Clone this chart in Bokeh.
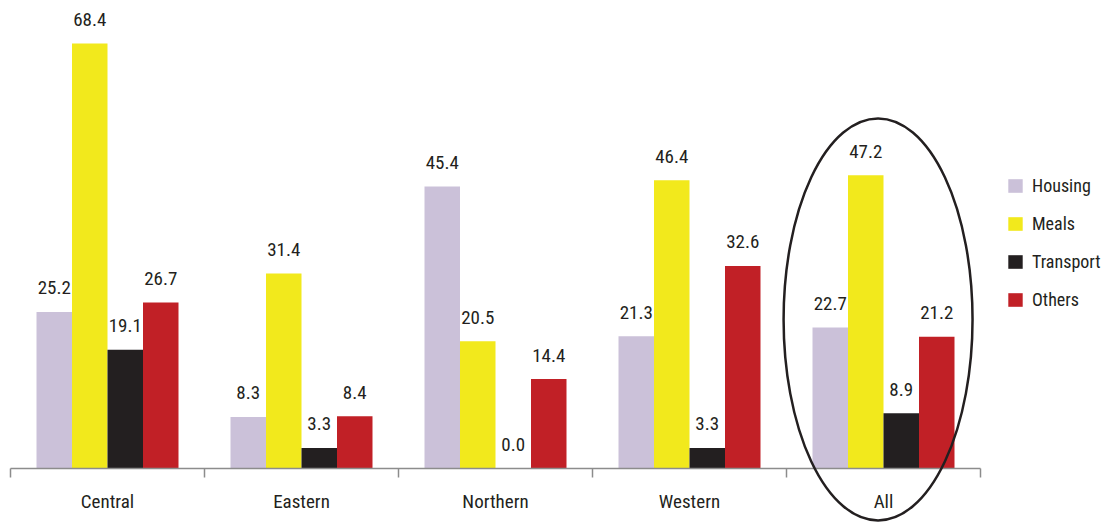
from bokeh.plotting import figure
from bokeh.models import Range1d, ColumnDataSource, Legend, LegendItem
from bokeh.core.properties import value
from bokeh.embed import file_html
from bokeh.resources import INLINE

regions = ["Central", "Eastern", "Northern", "Western", "All"]
series = ["Housing", "Meals", "Transport", "Others"]
housing = [25.2, 8.3, 45.4, 21.3, 22.7]
meals = [68.4, 31.4, 20.5, 46.4, 47.2]
transport = [19.1, 3.3, 0.0, 3.3, 8.9]
others = [26.7, 8.4, 14.4, 32.6, 21.2]
colors = ["#cbc1d9", "#f2e91c", "#231f20", "#c12026"]

FONT = "'Roboto Condensed', 'DejaVu Sans Condensed', 'Liberation Sans Narrow', 'Arial Narrow', sans-serif"
TXT = "#231f20"

PX_PER_UNIT_X = 194.0
PX_PER_UNIT_Y = 6.213
W, H = 1107, 522
X0, Y0 = 10, 468  # pixel position of data origin

p = figure(width=W, height=H, output_backend="svg", toolbar_location=None,
           x_range=Range1d(-X0 / PX_PER_UNIT_X, (W - X0) / PX_PER_UNIT_X),
           y_range=Range1d(-(H - Y0) / PX_PER_UNIT_Y, Y0 / PX_PER_UNIT_Y),
           min_border=0, min_border_left=0, min_border_right=0,
           min_border_top=0, min_border_bottom=0)
p.axis.visible = False
p.grid.visible = False
p.outline_line_color = None
p.background_fill_color = "white"

bw = 0.183
offsets = [-1.5 * bw, -0.5 * bw, 0.5 * bw, 1.5 * bw]
data = [housing, meals, transport, others]
renderers = []
for k, (name, vals) in enumerate(zip(series, data)):
    xs = [i + 0.5 + offsets[k] for i in range(len(regions))]
    src = ColumnDataSource(dict(x=xs, top=vals, lab=["%.1f" % v for v in vals]))
    r = p.vbar(x="x", top="top", bottom=0, width=bw, source=src,
               fill_color=colors[k], line_color=None)
    renderers.append(r)
    p.text(x="x", y="top", text="lab", source=src, text_align="center",
           text_baseline="middle", y_offset=-24,
           text_font=value(FONT), text_font_size="19px", text_color=TXT)

# axis line and boundary ticks
n = len(regions)
p.segment(x0=[0], y0=[0], x1=[n], y1=[0], line_color="#8c8c8c", line_width=1.5)
p.segment(x0=list(range(n + 1)), y0=[0] * (n + 1), x1=list(range(n + 1)),
          y1=[-9 / PX_PER_UNIT_Y] * (n + 1), line_color="#8c8c8c", line_width=1.5)
p.text(x=[i + 0.5 for i in range(n)], y=[0] * n, text=regions,
       text_align="center", text_baseline="middle", y_offset=33,
       text_font=value(FONT), text_font_size="19px", text_color=TXT)

# ellipse around "All"
p.ellipse(x=[4.472], y=[24.0], width=[0.974], height=[64.7],
          fill_color=None, line_color="#231f20", line_width=2.5)

legend = Legend(items=[LegendItem(label=s, renderers=[r]) for s, r in zip(series, renderers)],
                location=(1006, 212), orientation="vertical",
                glyph_width=18, glyph_height=17, label_height=17, spacing=17,
                padding=0, margin=0, label_standoff=8,
                label_text_font=FONT, label_text_font_size="18px",
                label_text_color=TXT, border_line_color=None,
                background_fill_alpha=0)
p.add_layout(legend)

open("out.html", "w").write(file_html(p, INLINE))
